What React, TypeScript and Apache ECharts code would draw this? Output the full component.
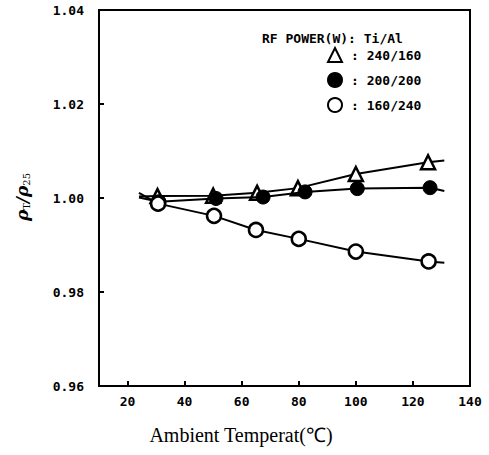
import React, { useEffect, useRef } from "react";
import * as echarts from "echarts";

// Temperatures (°C) and normalized resistivity for each RF power ratio
const triX = [24, 30.5, 50, 65.4, 79.7, 100, 125.3, 131];
const triY = [1.0003, 1.0004, 1.0005, 1.0011, 1.0021, 1.0051, 1.0076, 1.008];
const dotX = [24, 31, 51, 67.5, 82.2, 100.5, 126, 131];
const dotY = [1.0001, 0.9992, 0.9999, 1.0002, 1.0013, 1.002, 1.0022, 1.0015];
const ringX = [24, 30.7, 50.3, 65, 80, 100, 125.5, 131];
const ringY = [1.0011, 0.9988, 0.9962, 0.9932, 0.9913, 0.9886, 0.9865, 0.9862];
const seriesNames = [": 240/160", ": 200/200", ": 160/240"];
const xTicks = [20, 40, 60, 80, 100, 120, 140];
const legendTitle = "RF POWER(W): Ti/Al";
const xTitle = "Ambient Temperat(℃)";

const toData = (xs: number[], ys: number[]) =>
  xs.map((x, i) => {
    const endpoint = i === 0 || i === xs.length - 1;
    return endpoint ? { value: [x, ys[i]], symbol: "none" } : { value: [x, ys[i]] };
  });

export default function App() {
  const ref = useRef<HTMLDivElement>(null);
  useEffect(() => {
    if (!ref.current) return;
    const chart = echarts.init(ref.current, undefined, { renderer: "svg" });
    const mono = "DejaVu Sans Mono";
    const lineStyle = { color: "#000", width: 2 };
    chart.setOption({
      animation: false,
      backgroundColor: "#fff",
      grid: {
        left: 99,
        right: 19,
        top: 10,
        bottom: 69,
        show: true,
        borderColor: "#000",
        borderWidth: 2,
        outerBoundsMode: "none",
      },
      legend: {
        orient: "vertical",
        left: 322,
        top: 42,
        itemGap: 9,
        itemWidth: 14,
        itemHeight: 14,
        textStyle: {
          fontFamily: mono,
          fontSize: 13,
          fontWeight: "bold",
          color: "#000",
          padding: [0, 0, 0, 4],
        },
        data: [
          { name: seriesNames[0], icon: "triangle" },
          { name: seriesNames[1], icon: "circle" },
          { name: seriesNames[2], icon: "circle" },
        ],
      },
      xAxis: {
        type: "value",
        min: 10,
        max: 140,
        interval: 10,
        axisLine: { lineStyle: { color: "#000", width: 2 } },
        axisTick: {
          inside: true,
          length: 5,
          customValues: xTicks,
          lineStyle: { color: "#000", width: 2 },
        },
        axisLabel: {
          customValues: xTicks,
          margin: 9,
          fontFamily: mono,
          fontSize: 13,
          fontWeight: "bold",
          color: "#000",
          hideOverlap: false,
        },
        splitLine: { show: false },
      },
      yAxis: {
        type: "value",
        min: 0.96,
        max: 1.04,
        interval: 0.02,
        axisLine: { lineStyle: { color: "#000", width: 2 } },
        axisTick: { inside: true, length: 5, lineStyle: { color: "#000", width: 2 } },
        axisLabel: {
          margin: 15,
          fontFamily: mono,
          fontSize: 13,
          fontWeight: "bold",
          color: "#000",
          showMaxLabel: true,
          showMinLabel: true,
          hideOverlap: false,
          formatter: (v: number) => v.toFixed(2),
        },
        splitLine: { show: false },
      },
      series: [
        {
          name: seriesNames[0],
          type: "line",
          data: toData(triX, triY),
          symbol: "triangle",
          symbolSize: 14,
          itemStyle: { color: "#fff", borderColor: "#000", borderWidth: 2.5 },
          lineStyle,
          z: 3,
        },
        {
          name: seriesNames[1],
          type: "line",
          data: toData(dotX, dotY),
          symbol: "circle",
          symbolSize: 14,
          itemStyle: { color: "#000", borderColor: "#000", borderWidth: 1 },
          lineStyle,
          z: 4,
        },
        {
          name: seriesNames[2],
          type: "line",
          data: toData(ringX, ringY),
          symbol: "circle",
          symbolSize: 14,
          itemStyle: { color: "#fff", borderColor: "#000", borderWidth: 2.5 },
          lineStyle,
          z: 5,
        },
      ],
      graphic: [
        {
          type: "text",
          x: 262,
          y: 38,
          style: {
            text: legendTitle,
            fontFamily: mono,
            fontSize: 13,
            fontWeight: "bold",
            fill: "#000",
            textVerticalAlign: "middle",
          },
        },
        {
          type: "text",
          x: 241,
          y: 435,
          style: {
            text: xTitle,
            fontFamily: "Liberation Serif",
            fontSize: 20,
            fill: "#000",
            textAlign: "center",
            textVerticalAlign: "middle",
          },
        },
        {
          type: "text",
          x: 22,
          y: 197,
          rotation: Math.PI / 2,
          style: {
            text: "{p|ρ}{s|T}{p|/ρ}{s|25}",
            textAlign: "center",
            textVerticalAlign: "middle",
            fill: "#000",
            rich: {
              p: { fontFamily: "DejaVu Serif", fontStyle: "italic", fontWeight: "bold", fontSize: 17 },
              s: { fontFamily: "DejaVu Serif", fontSize: 10, padding: [8, 0, 0, 0] },
            },
          },
        },
      ],
    });
    return () => chart.dispose();
  }, []);
  return (
    <div
      ref={ref}
      style={{ position: "absolute", left: 0, top: 0, width: 489, height: 455 }}
    />
  );
}
